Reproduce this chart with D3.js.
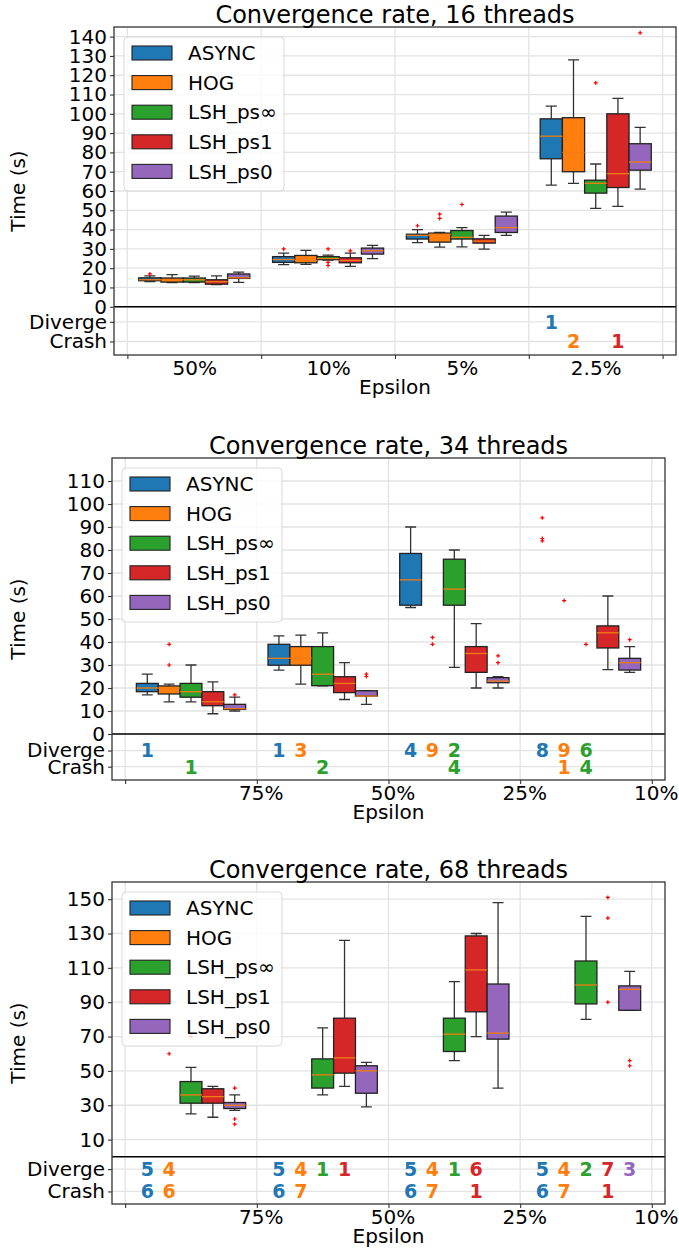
<!DOCTYPE html>
<html>
<head>
<meta charset="utf-8">
<script src="https://cdn.jsdelivr.net/npm/d3@7"></script>
<style>
  body { margin: 0; background: #fff; }
  svg { display: block; font-family: "DejaVu Sans", sans-serif; }
</style>
</head>
<body>
<div id="chart"></div>
<script>
"use strict";
// series shown in every panel
const seriesNames = ["ASYNC", "HOG", "LSH_ps\u221e", "LSH_ps1", "LSH_ps0"];
const seriesColors = ["#1f77b4", "#ff7f0e", "#2ca02c", "#d62728", "#9467bd"];

// box stats per epsilon group, per series: [whiskerLo, q1, median, q3, whiskerHi]
// ---- 16 threads
const labels16 = ["50%", "10%", "5%", "2.5%"];
const yTicks16 = [0, 10, 20, 30, 40, 50, 60, 70, 80, 90, 100, 110, 120, 130, 140];
const boxes16 = [
    [[13, 13.5, 14, 15, 16], [12.5, 12.8, 14, 14.9, 16.7], [12.5, 12.8, 14, 14.9, 15.9], [11.5, 11.7, 13, 14, 16], [12.6, 14.7, 15, 17, 18]],
    [[21.8, 23, 24.5, 26, 27.8], [22, 22.8, 24, 26.6, 29.2], [24.2, 24.4, 25, 26, 26.8], [20.9, 22.8, 24, 25.4, 27.8], [24.9, 27.3, 29, 30.4, 31.8]],
    [[33.2, 35.1, 37, 37.6, 40], [30.9, 33.5, 37.5, 38.2, 38.5], [31, 35.1, 36, 39.5, 41], [29.9, 33, 34, 35.2, 37], [37, 38.5, 41, 47, 49]],
    [[63, 76.7, 88.4, 97.4, 104], [64, 70, 80, 98, 128], [51, 58.9, 64, 65.6, 74], [52, 61.8, 69, 100, 108], [61, 70.8, 75, 84.5, 93]]
];
const fliers16 = [
    [[17], [], [], [], []],
    [[30], [], [30, 23, 21.4], [29], []],
    [[42], [48, 45.8], [53], [], []],
    [[], [], [116], [], [142]]
];
const diverge16 = [[0, 0, 0, 0, 0], [0, 0, 0, 0, 0], [0, 0, 0, 0, 0], [1, 0, 0, 0, 0]];
const crash16 = [[0, 0, 0, 0, 0], [0, 0, 0, 0, 0], [0, 0, 0, 0, 0], [0, 2, 0, 1, 0]];

// ---- 34 threads
const labels34 = ["75%", "50%", "25%", "10%"];
const yTicks34 = [0, 10, 20, 30, 40, 50, 60, 70, 80, 90, 100, 110];
const boxes34 = [
    [[17, 18.4, 20, 22, 26], [14, 17.4, 20, 20.9, 21.7], [14, 16, 18.4, 22, 30], [8.8, 12.3, 14, 18.4, 22.7], [10, 10.7, 11, 12.9, 16]],
    [[27.8, 29.9, 32.9, 39, 42.7], [21.7, 29.9, 33, 38, 43], [20.9, 21, 26, 38, 44], [15, 18, 22, 24.9, 31], [12.9, 16.5, 16.5, 18.8, 18.8]],
    [[55, 56, 67, 78.5, 90], null, [29, 56, 63, 76, 80], [20, 26.8, 35, 38, 48], [20, 22.3, 23, 24.5, 24.9]],
    [null, null, null, [28, 37.4, 44, 47, 60], [26.8, 27.8, 31, 32.9, 38]]
];
const fliers34 = [
    [[], [30, 39], [], [], [17]],
    [[], [], [], [], [26, 25]],
    [[], [42, 39], [], [], [34, 31]],
    [[94, 85, 84], [58], [39], [], [41]]
];
const diverge34 = [[1, 0, 0, 0, 0], [1, 3, 0, 0, 0], [4, 9, 2, 0, 0], [8, 9, 6, 0, 0]];
const crash34 = [[0, 0, 1, 0, 0], [0, 0, 2, 0, 0], [0, 0, 4, 0, 0], [0, 1, 4, 0, 0]];

// ---- 68 threads
const labels68 = ["75%", "50%", "25%", "10%"];
const yTicks68 = [10, 30, 50, 70, 90, 110, 130, 150];
const boxes68 = [
    [null, null, [25, 31.2, 36, 43.8, 52], [23, 31.2, 35, 39.6, 41], [27, 28.1, 30, 31.6, 36]],
    [null, null, [36, 40, 47.7, 57, 75], [41, 48.7, 57.6, 80.7, 126], [29, 37, 50, 53, 55]],
    [null, null, [56, 61.3, 71.4, 80.7, 102], [70, 84.4, 108.8, 128.6, 130], [40, 68.5, 72, 100.6, 148]],
    [null, null, [80, 89, 100, 114, 140], null, [85.3, 85.3, 97.5, 99.5, 108]]
];
const fliers68 = [
    [[], [60], [70], [], [40, 22, 19]],
    [[], [], [], [], []],
    [[], [], [], [], []],
    [[], [], [], [151, 139, 90], [56, 53]]
];
const diverge68 = [[5, 4, 0, 0, 0], [5, 4, 1, 1, 0], [5, 4, 1, 6, 0], [5, 4, 2, 7, 3]];
const crash68 = [[6, 6, 0, 0, 0], [6, 7, 0, 0, 0], [6, 7, 0, 1, 0], [6, 7, 0, 1, 0]];

// layout of the three panels
const panels = [
    { title: "Convergence rate, 16 threads", labels: labels16, labelAt: [0.5, 1.5, 2.5, 3.5], labelDx: 0,
      yTicks: yTicks16, boxes: boxes16, fliers: fliers16, diverge: diverge16, crash: crash16,
      yDomain: [-25, 145], divergeAt: -7.8, crashAt: -18,
      left: 114, right: 676, top: 27, bottom: 355 },
    { title: "Convergence rate, 34 threads", labels: labels34, labelAt: [1, 2, 3, 4], labelDx: 4,
      yTicks: yTicks34, boxes: boxes34, fliers: fliers34, diverge: diverge34, crash: crash34,
      yDomain: [-20, 120], divergeAt: -7.2, crashAt: -14.2,
      left: 112, right: 665, top: 458, bottom: 780 },
    { title: "Convergence rate, 68 threads", labels: labels68, labelAt: [1, 2, 3, 4], labelDx: 4,
      yTicks: yTicks68, boxes: boxes68, fliers: fliers68, diverge: diverge68, crash: crash68,
      yDomain: [-27.5, 160], divergeAt: -7.2, crashAt: -20.2,
      left: 112, right: 665, top: 882, bottom: 1204 }
];

const width = 679, height = 1248;
const boxW = 0.166;   // box width in group units
const svg = d3.select("#chart").append("svg")
    .attr("width", width)
    .attr("height", height);

panels.forEach(drawPanel);

function drawPanel(p) {
    const x = d3.scaleLinear().domain([-0.1, 4.1]).range([p.left, p.right]);
    const y = d3.scaleLinear().domain(p.yDomain).range([p.bottom, p.top]);
    const g = svg.append("g");
    const yVals = p.yTicks.concat([p.divergeAt, p.crashAt]);
    const bounds = [0, 1, 2, 3, 4];

    // grid
    g.selectAll(".hgrid").data(yVals).enter().append("line")
        .attr("x1", p.left).attr("x2", p.right)
        .attr("y1", d => y(d)).attr("y2", d => y(d))
        .attr("stroke", "#e3e3e3").attr("stroke-width", 1.3);
    g.selectAll(".vgrid").data(bounds).enter().append("line")
        .attr("x1", d => x(d)).attr("x2", d => x(d))
        .attr("y1", p.top).attr("y2", p.bottom)
        .attr("stroke", "#e3e3e3").attr("stroke-width", 1.3);

    // axes
    const yAxis = d3.axisLeft(y).tickValues(yVals).tickSize(4).tickPadding(3)
        .tickFormat(d => d === p.divergeAt ? "Diverge" : d === p.crashAt ? "Crash" : d);
    const ya = g.append("g").attr("transform", "translate(" + p.left + ",0)").call(yAxis);
    const xa = g.append("g").attr("transform", "translate(0," + p.bottom + ")")
        .call(d3.axisBottom(x).tickValues(bounds).tickSize(4).tickFormat(""));
    const xl = g.append("g").attr("transform", "translate(0," + p.bottom + ")")
        .call(d3.axisBottom(x).tickValues(p.labelAt).tickSize(0).tickPadding(6)
            .tickFormat((d, i) => p.labels[i]));
    [ya, xa, xl].forEach(a => {
        a.select(".domain").remove();
        a.selectAll("text").attr("font-size", 20).attr("fill", "#000")
            .attr("font-family", "DejaVu Sans, sans-serif");
        a.selectAll("line").attr("stroke", "#333").attr("stroke-width", 1.1);
    });
    xl.selectAll("text").attr("dx", p.labelDx);

    // boxes
    const clip = "clip" + p.top;
    svg.append("clipPath").attr("id", clip).append("rect")
        .attr("x", p.left).attr("y", p.top)
        .attr("width", p.right - p.left).attr("height", p.bottom - p.top);
    const plot = g.append("g").attr("clip-path", "url(#" + clip + ")");
    const items = [];
    p.boxes.forEach((grp, gi) => grp.forEach((b, si) => {
        items.push({ gi: gi, si: si, b: b, fl: p.fliers[gi][si],
            cx: gi + 0.5 + (si - 2) * boxW });
    }));
    const withBox = items.filter(d => d.b);
    const bw = x(boxW) - x(0);

    plot.selectAll(".whisker").data(withBox).enter().append("path")
        .attr("d", d => "M" + x(d.cx) + "," + y(d.b[0]) + "V" + y(d.b[1]) +
            "M" + x(d.cx) + "," + y(d.b[3]) + "V" + y(d.b[4]) +
            "M" + (x(d.cx) - bw / 4) + "," + y(d.b[0]) + "h" + bw / 2 +
            "M" + (x(d.cx) - bw / 4) + "," + y(d.b[4]) + "h" + bw / 2)
        .attr("stroke", "#333").attr("stroke-width", 1.3).attr("fill", "none");
    plot.selectAll(".box").data(withBox).enter().append("rect")
        .attr("x", d => x(d.cx) - bw / 2)
        .attr("width", bw)
        .attr("y", d => y(d.b[3]))
        .attr("height", d => Math.max(1, y(d.b[1]) - y(d.b[3])))
        .attr("fill", d => seriesColors[d.si])
        .attr("stroke", "#222").attr("stroke-width", 1.3);
    plot.selectAll(".median").data(withBox).enter().append("line")
        .attr("x1", d => x(d.cx) - bw / 2).attr("x2", d => x(d.cx) + bw / 2)
        .attr("y1", d => y(d.b[2])).attr("y2", d => y(d.b[2]))
        .attr("stroke", "#f07c12").attr("stroke-width", 1.3);

    // fliers as red plus marks
    const pts = [];
    items.forEach(d => d.fl.forEach(v => pts.push({ cx: d.cx, v: v })));
    plot.selectAll(".flier").data(pts).enter().append("path")
        .attr("d", d => "M" + (x(d.cx) - 2) + "," + y(d.v) + "h4M" + x(d.cx) + "," + (y(d.v) - 2) + "v4")
        .attr("stroke", "red").attr("stroke-width", 1.2);

    // zero line
    g.append("line")
        .attr("x1", p.left).attr("x2", p.right)
        .attr("y1", y(0)).attr("y2", y(0))
        .attr("stroke", "#000").attr("stroke-width", 1.3);

    // diverge / crash counts
    const counts = [];
    items.forEach(d => {
        const dv = p.diverge[d.gi][d.si], cr = p.crash[d.gi][d.si];
        if (dv) counts.push({ cx: d.cx, si: d.si, v: dv, at: p.divergeAt });
        if (cr) counts.push({ cx: d.cx, si: d.si, v: cr, at: p.crashAt });
    });
    g.selectAll(".count").data(counts).enter().append("text")
        .attr("x", d => x(d.cx))
        .attr("y", d => y(d.at))
        .attr("dy", "0.36em")
        .attr("text-anchor", "middle")
        .attr("font-size", 19).attr("font-weight", "bold")
        .attr("fill", d => seriesColors[d.si])
        .text(d => d.v);

    // frame
    g.append("rect")
        .attr("x", p.left).attr("y", p.top)
        .attr("width", p.right - p.left).attr("height", p.bottom - p.top)
        .attr("fill", "none").attr("stroke", "#333").attr("stroke-width", 1.3);

    // titles
    g.append("text")
        .attr("x", (p.left + p.right) / 2).attr("y", p.top - 4)
        .attr("text-anchor", "middle").attr("font-size", 24)
        .text(p.title);
    g.append("text")
        .attr("x", (p.left + p.right) / 2).attr("y", p.bottom + 39)
        .attr("text-anchor", "middle").attr("font-size", 20)
        .text("Epsilon");
    g.append("text")
        .attr("transform", "translate(25," + (p.top + p.bottom) / 2 + ") rotate(-90)")
        .attr("text-anchor", "middle").attr("font-size", 20)
        .text("Time (s)");

    // legend
    const lx = p.left + 10, ly = p.top + 10;
    const legend = g.append("g").attr("transform", "translate(" + lx + "," + ly + ")");
    legend.append("rect")
        .attr("width", 160).attr("height", 154).attr("rx", 4)
        .attr("fill", "#fff").attr("fill-opacity", 0.8)
        .attr("stroke", "#d8d8d8").attr("stroke-width", 1);
    const row = legend.selectAll(".lrow").data(seriesNames).enter().append("g")
        .attr("transform", (d, i) => "translate(0," + (16 + i * 29.6) + ")");
    row.append("rect")
        .attr("x", 8).attr("y", -7).attr("width", 40).attr("height", 14)
        .attr("fill", (d, i) => seriesColors[i])
        .attr("stroke", "#222").attr("stroke-width", 1.1);
    row.append("text")
        .attr("x", 64).attr("dy", "0.36em")
        .attr("font-size", 20)
        .text(d => d);
}
</script>
</body>
</html>
